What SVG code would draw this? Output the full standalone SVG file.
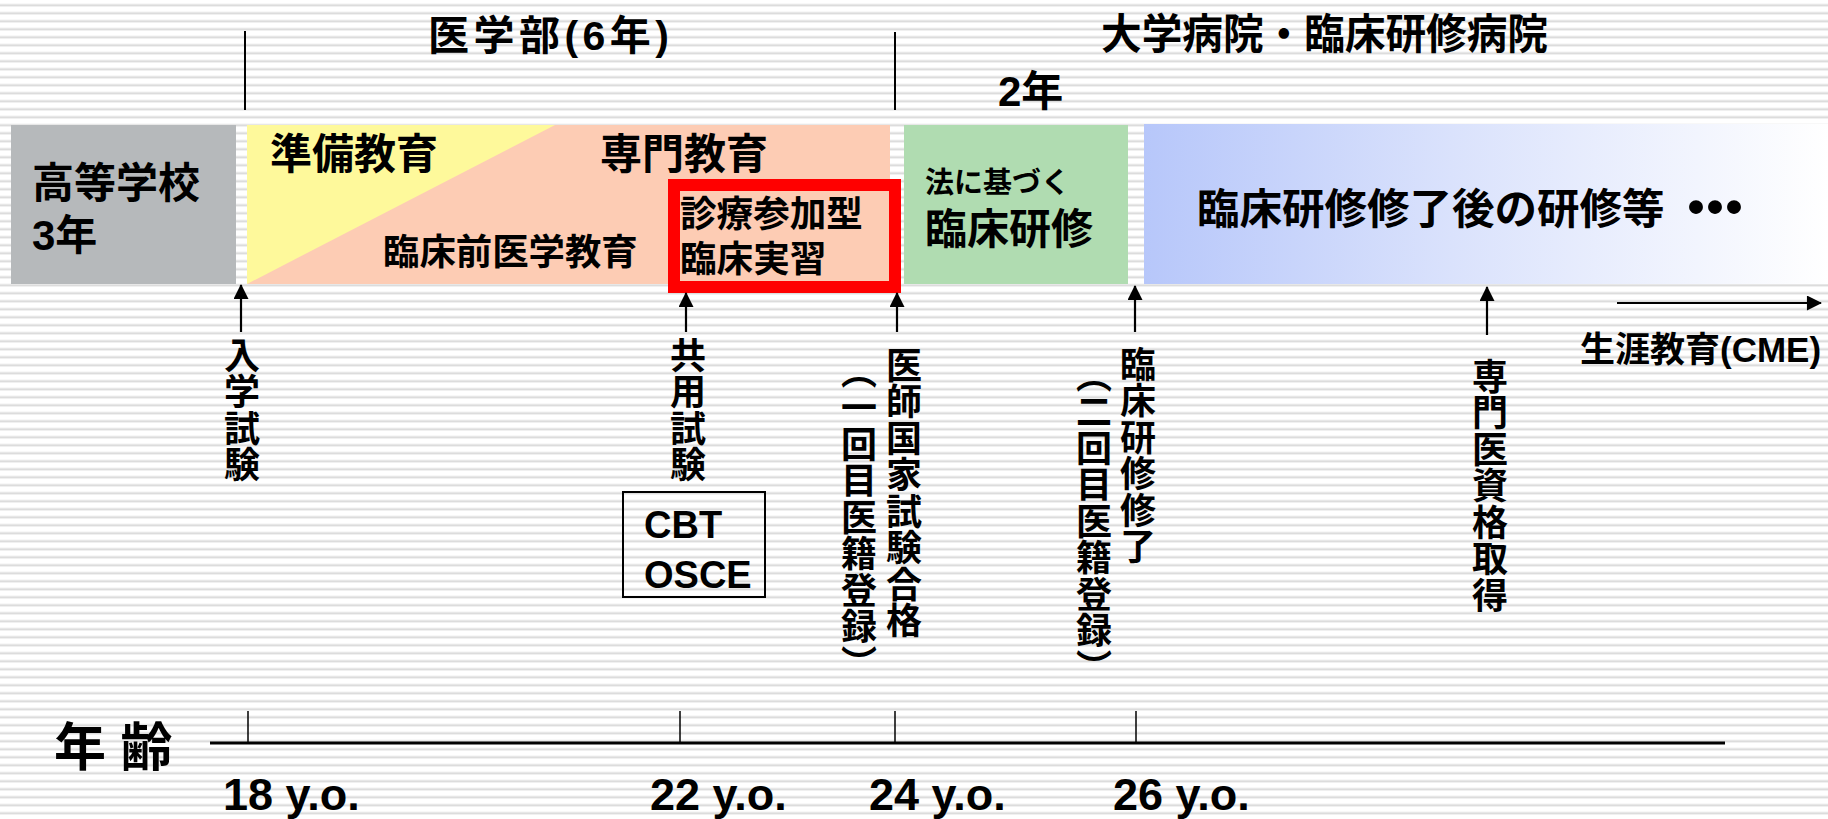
<svg xmlns="http://www.w3.org/2000/svg" width="1828" height="819" viewBox="0 0 1828 819">
<style>
.t{font-family:"Liberation Sans","Noto Sans CJK JP",sans-serif;font-weight:bold;fill:#000}
.j{font-family:"Noto Sans CJK JP",sans-serif;font-weight:bold;fill:#000}
.v{font-family:"Noto Sans CJK JP",sans-serif;font-weight:bold;fill:#000;font-size:36px;writing-mode:vertical-rl;letter-spacing:0.5px}
.vp{font-feature-settings:"vhal" 1}
.ln{stroke:#000;stroke-width:2;fill:none}
.tick{stroke:#000;stroke-width:1.5}
.arr{stroke:#000;stroke-width:2.2;fill:none;marker-end:url(#ah)}
</style>
<defs>
<pattern id="stripes" patternUnits="userSpaceOnUse" width="16" height="8">
<rect width="16" height="8" fill="#ffffff"/>
<rect y="3.6" width="16" height="0.8" fill="#efefef"/>
<rect y="4.4" width="16" height="1.8" fill="#dcdcdc"/>
<rect y="6.2" width="16" height="0.8" fill="#efefef"/>
</pattern>
<linearGradient id="blueg" x1="1144" y1="0" x2="1828" y2="0" gradientUnits="userSpaceOnUse">
<stop offset="0" stop-color="#b7c7fa"/>
<stop offset="0.45" stop-color="#dae2fc"/>
<stop offset="1" stop-color="#ffffff"/>
</linearGradient>
<marker id="ah" viewBox="0 0 16 16" markerWidth="16" markerHeight="15" refX="15" refY="8" orient="auto" markerUnits="userSpaceOnUse">
<path d="M0,0 L16,8 L0,16 z" fill="#000"/>
</marker>
</defs>

<rect width="1828" height="819" fill="url(#stripes)"/>

<g id="header-medschool">
<line class="ln" x1="245" y1="31" x2="245" y2="110"/>
<line class="ln" x1="895" y1="32" x2="895" y2="110"/>
<text class="t" x="428" y="50" font-size="41" textLength="241" lengthAdjust="spacing">医学部(6年)</text>
</g>

<g id="header-hospital">
<text class="j" x="1101" y="49" font-size="42" textLength="447" lengthAdjust="spacingAndGlyphs">大学病院・臨床研修病院</text>
<text class="t" x="998" y="106" font-size="42">2年</text>
</g>

<g id="node-highschool">
<rect x="11" y="125" width="225" height="159" fill="#b6b9bb"/>
<text class="t" x="32" y="198" font-size="42">高等学校</text>
<text class="t" x="32" y="250" font-size="42">3年</text>
</g>

<g id="node-medschool">
<rect x="247" y="125" width="643" height="159" fill="#fdccb4"/>
<polygon points="247,125 555,125 247,284" fill="#fef99b"/>
<text class="j" x="270" y="169" font-size="42">準備教育</text>
<text class="j" x="600" y="169" font-size="42">専門教育</text>
<text class="j" x="383" y="265" font-size="36.4">臨床前医学教育</text>
</g>

<g id="node-clerkship">
<rect x="674" y="185" width="221" height="102" fill="none" stroke="#ff0000" stroke-width="12"/>
<text class="j" x="680" y="227" font-size="36.6">診療参加型</text>
<text class="j" x="680" y="272" font-size="36.6">臨床実習</text>
</g>

<g id="node-residency">
<rect x="904" y="125" width="224" height="159" fill="#b0dcb1"/>
<text class="j" x="925" y="193" font-size="29">法に基づく</text>
<text class="j" x="925" y="244" font-size="42">臨床研修</text>
</g>

<g id="node-postgrad">
<rect x="1144" y="124" width="684" height="160" fill="url(#blueg)"/>
<text class="j" x="1197" y="224" font-size="42.5">臨床研修修了後の研修等<tspan x="1669" dy="4" font-size="54" letter-spacing="-35">・・・</tspan></text>
</g>

<g id="connectors">
<path class="arr" d="M241,332 V285"/>
<path class="arr" d="M686,332 V293"/>
<path class="arr" d="M897,332 V293"/>
<path class="arr" d="M1135,332 V286"/>
<path class="arr" d="M1487,335 V287"/>
<path class="arr" d="M1617,303 H1821"/>
</g>

<g id="event-entrance">
<text class="v" x="242" y="337">入学試験</text>
</g>

<g id="event-cbt">
<text class="v" x="688" y="337">共用試験</text>
<rect x="623" y="492" width="142" height="105" fill="none" stroke="#000" stroke-width="2"/>
<text class="t" x="644" y="538" font-size="38">CBT</text>
<text class="t" x="644" y="588" font-size="38">OSCE</text>
</g>

<g id="event-national-exam">
<text class="v" x="904" y="347">医師国家試験合格</text>
<text class="v vp" x="859" y="371">（一回目医籍登録）</text>
</g>

<g id="event-residency-complete">
<text class="v" x="1138" y="346">臨床研修修了</text>
<text class="v vp" x="1094" y="375">（二回目医籍登録）</text>
</g>

<g id="event-specialist">
<text class="v" x="1490" y="358">専門医資格取得</text>
</g>

<g id="label-cme">
<text class="t" x="1580" y="362" font-size="35">生涯教育(CME)</text>
</g>

<g id="age-axis">
<line x1="210" y1="743" x2="1725" y2="743" stroke="#000" stroke-width="3"/>
<line class="tick" x1="248" y1="711" x2="248" y2="743"/>
<line class="tick" x1="680" y1="711" x2="680" y2="743"/>
<line class="tick" x1="895" y1="711" x2="895" y2="743"/>
<line class="tick" x1="1136" y1="711" x2="1136" y2="743"/>
<text class="t" x="54" y="766" font-size="52">年 齢</text>
<text class="t" x="223" y="810" font-size="45">18 y.o.</text>
<text class="t" x="650" y="810" font-size="45">22 y.o.</text>
<text class="t" x="869" y="810" font-size="45">24 y.o.</text>
<text class="t" x="1113" y="810" font-size="45">26 y.o.</text>
</g>
</svg>
